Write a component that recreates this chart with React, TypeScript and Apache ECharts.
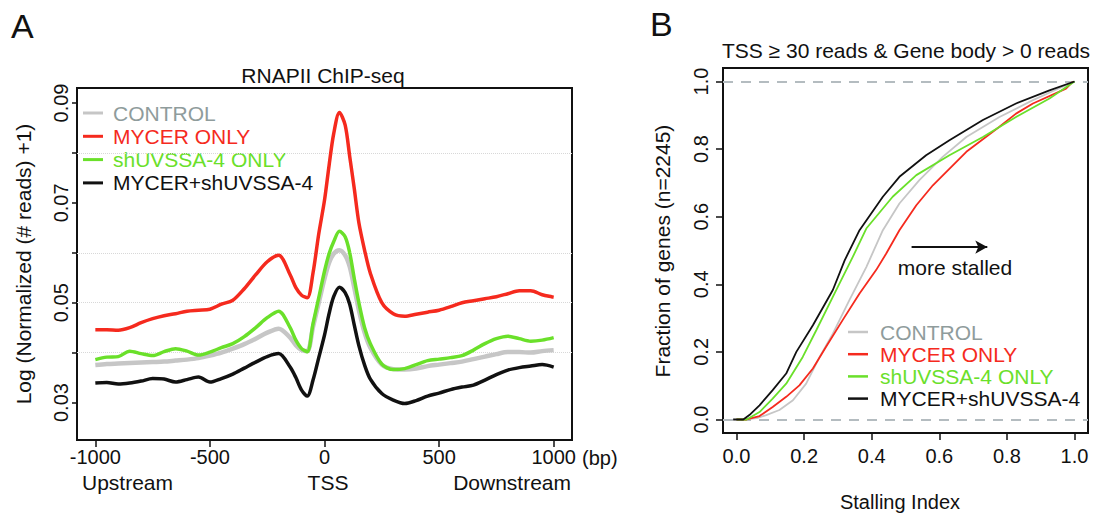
import React, { useEffect, useRef } from "react";
import * as echarts from "echarts";

const FONT = "'Liberation Sans', Arial, Helvetica, sans-serif";

const seriesNames = ["CONTROL", "MYCER ONLY", "shUVSSA-4 ONLY", "MYCER+shUVSSA-4"];
const seriesColors = ["#c6c6c6", "#f52a1e", "#6ae02a", "#111111"];
const legendTextColors = ["#8f9c9c", "#f52a1e", "#6ae02a", "#111111"];

// Panel A: RNAPII ChIP-seq metaprofile (bp relative to TSS)
const positionsBp = [
  -1000, -950, -900, -850, -800, -750, -700, -650, -600, -550, -500, -450, -400, -350, -300, -250, -200, -150,
  -125, -100, -75, -50, -25, 0, 20, 40, 65, 90, 110, 130, 150, 175, 200,
  250, 300, 350, 400, 450, 500, 550, 600, 650, 700, 750, 800, 850, 900, 950, 1000,
];
const controlProfile = [
  0.0375, 0.0377, 0.0378, 0.0379, 0.038, 0.0381, 0.0382, 0.0384, 0.0386, 0.0389, 0.0394, 0.04, 0.0408, 0.0417, 0.0428, 0.044, 0.0448, 0.043,
  0.0415, 0.0405, 0.0403, 0.0452, 0.05, 0.0548, 0.058, 0.0598, 0.0605, 0.0595, 0.0572, 0.053, 0.0485, 0.044, 0.041,
  0.0376, 0.0367, 0.0366, 0.0368, 0.0373, 0.0376, 0.0379, 0.0382, 0.0387, 0.0392, 0.0397, 0.0401, 0.0401, 0.04, 0.0403, 0.0405,
];
const mycerProfile = [
  0.0446, 0.0446, 0.0445, 0.045, 0.046, 0.0468, 0.0474, 0.0478, 0.0483, 0.0485, 0.0487, 0.0497, 0.0505, 0.0528, 0.0556, 0.0582, 0.0595, 0.0556,
  0.053, 0.0515, 0.051, 0.056, 0.0638, 0.0705, 0.0775, 0.0838, 0.0881, 0.0856, 0.0793, 0.0728, 0.066, 0.0605, 0.0559,
  0.05, 0.0478, 0.0473, 0.0477, 0.0481, 0.0485, 0.0492, 0.05, 0.0504, 0.0508, 0.0512, 0.0518, 0.0524, 0.0524, 0.0516, 0.0511,
];
const shuvssaProfile = [
  0.0386, 0.0391, 0.0392, 0.0403, 0.0398, 0.0394, 0.0402, 0.0408, 0.0403, 0.0395, 0.0401, 0.041, 0.0418, 0.0432, 0.045, 0.047, 0.0483, 0.045,
  0.0425, 0.0408, 0.0402, 0.0458, 0.051, 0.0563, 0.0598, 0.0622, 0.0643, 0.0632, 0.06, 0.0548, 0.05, 0.045, 0.0418,
  0.0377, 0.0366, 0.0368, 0.0376, 0.0384, 0.0387, 0.039, 0.0394, 0.0405, 0.0418, 0.0428, 0.0433, 0.0428, 0.0423, 0.0425, 0.043,
];
const comboProfile = [
  0.0339, 0.034, 0.0337, 0.0339, 0.0343, 0.0348, 0.0347, 0.0341, 0.0346, 0.0351, 0.0341, 0.0348, 0.0357, 0.0369, 0.0381, 0.0392, 0.0398, 0.0371,
  0.035, 0.0325, 0.0313, 0.0345, 0.039, 0.0435, 0.0478, 0.0512, 0.0531, 0.052, 0.0497, 0.0455, 0.0414, 0.0375, 0.0347,
  0.0318, 0.0305, 0.0298, 0.0304, 0.0313, 0.0319, 0.0326, 0.0331, 0.0335, 0.0345, 0.0356, 0.0365, 0.037, 0.0373, 0.0376, 0.0371,
];
const panelATicksX = [-1000, -500, 0, 500, 1000];
const panelATicksY = [0.03, 0.04, 0.05, 0.06, 0.07, 0.08, 0.09];
const panelALabelsY = [0.03, 0.05, 0.07, 0.09];
const panelAFaintLines = [0.0364, 0.0503, 0.0647, 0.0787];

// Panel B: cumulative distribution of stalling index [index, fraction]
const controlEcdf = [
  [0, 0], [0.03, 0], [0.06, 0.004], [0.088, 0.013], [0.127, 0.028], [0.167, 0.057], [0.206, 0.106], [0.246, 0.185],
  [0.285, 0.254], [0.334, 0.353], [0.384, 0.451], [0.393, 0.471], [0.433, 0.56], [0.482, 0.639], [0.541, 0.708],
  [0.61, 0.777], [0.68, 0.836], [0.778, 0.895], [0.877, 0.945], [0.95, 0.978], [1.0, 1.0],
];
const mycerEcdf = [
  [0, 0], [0.03, 0], [0.068, 0.01], [0.107, 0.037], [0.147, 0.067], [0.186, 0.101], [0.226, 0.151], [0.265, 0.215],
  [0.314, 0.294], [0.364, 0.373], [0.413, 0.442], [0.443, 0.491], [0.482, 0.56], [0.532, 0.634], [0.581, 0.693],
  [0.68, 0.792], [0.778, 0.866], [0.827, 0.905], [0.877, 0.935], [0.975, 0.979], [0.995, 1.0],
];
const shuvssaEcdf = [
  [0, 0], [0.03, 0], [0.068, 0.022], [0.107, 0.062], [0.147, 0.106], [0.196, 0.185], [0.236, 0.264], [0.285, 0.363],
  [0.344, 0.481], [0.384, 0.565], [0.462, 0.659], [0.532, 0.723], [0.63, 0.782], [0.729, 0.836], [0.827, 0.895],
  [0.926, 0.95], [1.0, 1.0],
];
const comboEcdf = [
  [-0.01, 0], [0.02, 0], [0.038, 0.013], [0.068, 0.042], [0.107, 0.087], [0.147, 0.136], [0.177, 0.2], [0.226, 0.279],
  [0.285, 0.383], [0.32, 0.471], [0.364, 0.56], [0.433, 0.659], [0.482, 0.718], [0.561, 0.782], [0.63, 0.826],
  [0.729, 0.886], [0.827, 0.935], [0.926, 0.974], [1.0, 1.0],
];
const panelBTicks = [0, 0.2, 0.4, 0.6, 0.8, 1.0];
const panelBRefLines = [0, 1];
const arrowStart = [0.518, 0.51];
const arrowEnd = [0.742, 0.51];

const txt = (text: string, x: number, y: number, o: any = {}) => ({
  type: "text",
  x,
  y,
  rotation: o.rotation || 0,
  silent: true,
  style: {
    text,
    fill: o.color || "#111",
    fontSize: o.size || 21,
    fontFamily: FONT,
    align: o.align || "center",
    verticalAlign: "middle",
  },
});

export default function App() {
  const ref = useRef<HTMLDivElement>(null);
  useEffect(() => {
    if (!ref.current) return;
    const chart = echarts.init(ref.current, undefined, { renderer: "svg" });
    const profiles = [controlProfile, mycerProfile, shuvssaProfile, comboProfile];
    const ecdfs = [controlEcdf, mycerEcdf, shuvssaEcdf, comboEcdf];
    const drawOrderA = [0, 3, 2, 1];
    const drawOrderB = [0, 1, 2, 3];

    const seriesA = drawOrderA.map((i, k) => ({
      type: "line",
      name: seriesNames[i],
      xAxisIndex: 0,
      yAxisIndex: 0,
      data: positionsBp.map((p, j) => [p, profiles[i][j]]),
      showSymbol: false,
      smooth: 0.3,
      lineStyle: { color: seriesColors[i], width: i === 0 ? 4.5 : 3.5 },
      itemStyle: { color: seriesColors[i] },
      z: 3 + k,
      markLine:
        k === 0
          ? {
              silent: true,
              symbol: "none",
              label: { show: false },
              lineStyle: { color: "#d8d8d8", type: "dotted", width: 1 },
              data: panelAFaintLines.map((v) => ({ yAxis: v })),
              z: 1,
            }
          : undefined,
    }));

    const seriesB = drawOrderB.map((i, k) => ({
      type: "line",
      name: seriesNames[i] + " ",
      xAxisIndex: 1,
      yAxisIndex: 1,
      data: ecdfs[i],
      showSymbol: false,
      lineStyle: { color: seriesColors[i], width: 1.8 },
      itemStyle: { color: seriesColors[i] },
      z: 3 + k,
      markLine:
        k === 0
          ? {
              silent: true,
              symbol: "none",
              label: { show: false },
              lineStyle: { color: "#b4bcc0", type: [10, 8], width: 2 },
              data: panelBRefLines.map((v) => ({ yAxis: v })),
              z: 1,
            }
          : k === 3
          ? {
              silent: true,
              symbol: ["none", "arrow"],
              symbolSize: [10, 12],
              label: { show: false },
              lineStyle: { color: "#111", type: "solid", width: 2 },
              data: [[{ coord: arrowStart }, { coord: arrowEnd }]],
            }
          : undefined,
    }));

    const tickStyle = { color: "#111", width: 1.5 };
    const labelBase = { fontSize: 20, color: "#111", fontFamily: FONT };
    const hiddenLine = { show: false, onZero: false };

    const graphics: any[] = [
      txt("A", 11, 26, { size: 34, align: "left" }),
      txt("B", 650, 24, { size: 34, align: "left" }),
      txt("RNAPII ChIP-seq", 323, 75, { size: 21 }),
      txt("TSS \u2265 30 reads & Gene body > 0 reads", 906, 50, { size: 21 }),
      txt("(bp)", 582, 458, { size: 20, align: "left" }),
      txt("Upstream", 82, 482, { align: "left" }),
      txt("TSS", 328, 482),
      txt("Downstream", 571, 482, { align: "right" }),
      txt("Log (Normalized (# reads) +1)", 23, 264, { rotation: Math.PI / 2 }),
      txt("Fraction of genes (n=2245)", 662, 251, { rotation: Math.PI / 2 }),
      txt("Stalling Index", 900, 502, { size: 20 }),
      txt("more stalled", 955, 267),
    ];
    seriesNames.forEach((n, i) => {
      const ya = 113 + i * 23.3;
      graphics.push({
        type: "line",
        silent: true,
        shape: { x1: 83, y1: ya, x2: 103, y2: ya },
        style: { stroke: seriesColors[i], lineWidth: 3 },
      });
      graphics.push(txt(n, 113, ya, { align: "left", color: legendTextColors[i] }));
      const yb = 332 + i * 22.2;
      graphics.push({
        type: "line",
        silent: true,
        shape: { x1: 848, y1: yb, x2: 868, y2: yb },
        style: { stroke: seriesColors[i], lineWidth: 2.5 },
      });
      graphics.push(txt(n, 880, yb, { align: "left", color: legendTextColors[i] }));
    });

    chart.setOption({
      animation: false,
      backgroundColor: "#ffffff",
      textStyle: { fontFamily: FONT },
      grid: [
        { left: 77, top: 88, width: 495, height: 352, show: true, borderColor: "#111", borderWidth: 2, backgroundColor: "transparent" },
        { left: 723, top: 68, width: 365, height: 365, show: true, borderColor: "#111", borderWidth: 2, backgroundColor: "transparent" },
      ],
      xAxis: [
        {
          type: "value",
          gridIndex: 0,
          position: "bottom",
          min: -1080,
          max: 1080,
          axisLine: hiddenLine,
          splitLine: { show: false },
          axisTick: { show: true, customValues: panelATicksX, length: 7, lineStyle: tickStyle },
          axisLabel: { ...labelBase, customValues: panelATicksX, margin: 7, formatter: (v: number) => String(v) },
        },
        {
          type: "value",
          gridIndex: 1,
          position: "bottom",
          min: -0.04,
          max: 1.04,
          axisLine: hiddenLine,
          splitLine: { show: false },
          axisTick: { show: true, customValues: panelBTicks, length: 7, lineStyle: tickStyle },
          axisLabel: { ...labelBase, customValues: panelBTicks, margin: 13, formatter: (v: number) => v.toFixed(1) },
        },
      ],
      yAxis: [
        {
          type: "value",
          gridIndex: 0,
          position: "left",
          min: 0.0225,
          max: 0.093,
          axisLine: hiddenLine,
          splitLine: { show: false },
          axisTick: { show: true, customValues: panelATicksY, length: 5, lineStyle: tickStyle },
          axisLabel: { ...labelBase, customValues: panelALabelsY, rotate: 90, margin: 6, formatter: (v: number) => v.toFixed(2) },
        },
        {
          type: "value",
          gridIndex: 1,
          position: "left",
          min: -0.04,
          max: 1.04,
          axisLine: hiddenLine,
          splitLine: { show: false },
          axisTick: { show: true, customValues: panelBTicks, length: 7, lineStyle: tickStyle },
          axisLabel: { ...labelBase, customValues: panelBTicks, rotate: 90, margin: 12, formatter: (v: number) => v.toFixed(1) },
        },
      ],
      series: [...seriesA, ...seriesB],
      graphic: graphics,
    });
    return () => chart.dispose();
  }, []);

  return (
    <div
      ref={ref}
      style={{ position: "absolute", left: 0, top: 0, width: 1094, height: 514, background: "#fff" }}
    />
  );
}
